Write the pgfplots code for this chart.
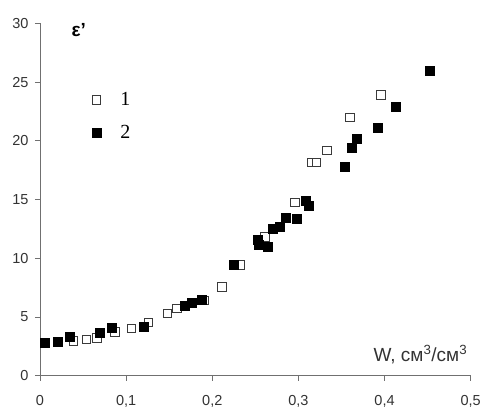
\documentclass[border=0pt]{standalone}
\usepackage{fontspec}
\setmainfont{Liberation Sans}
\newfontfamily\serifnum{Liberation Serif}
\usepackage{pgfplots}
\pgfplotsset{compat=1.18}
\definecolor{axgray}{HTML}{707070}
\definecolor{txtgray}{HTML}{333333}
\definecolor{opengray}{HTML}{3A3A3A}

\begin{document}
\begin{tikzpicture}
\useasboundingbox (-40pt,-34.3pt) rectangle (443pt,375.7pt);
\begin{axis}[scale only axis, width=430.7pt, height=352.4pt,
  xmin=0, xmax=0.5, ymin=0, ymax=30,
  xtick={0,0.1,...,0.5}, ytick={0,5,...,30},
  axis lines=left, axis line style={-, axgray, line width=0.9pt},
  tick align=outside, major tick length=5pt,
  tick style={axgray, line width=0.9pt},
  /pgf/number format/assume math mode=true,
  xticklabel style={/pgf/number format/use comma,
    /pgf/number format/fixed, /pgf/number format/precision=1},
  tick label style={font=\fontsize{14.5}{16}\selectfont, text=txtgray},
  xticklabel style={yshift=-11pt},
  yticklabel style={xshift=-3pt},
  clip=false,
  legend style={at={(axis cs:0.060,24.3)}, anchor=north west, draw=none,
    fill=none, inner sep=0pt, row sep=14pt,
    font=\serifnum\fontsize{20}{22}\selectfont},
  legend cell align=left,
  legend image code/.code={\draw[#1] plot coordinates {(0pt,0pt)};
    \path[draw=none, fill=none] (-4.5pt,0pt) -- (22pt,0pt);},
]
\addplot[only marks, mark=square*, mark size=4.3pt,
  mark options={fill=white, draw=opengray, line width=0.8pt}] coordinates {
(0.039,2.98) (0.054,3.1) (0.066,3.24) (0.087,3.75) (0.106,4.03) (0.126,4.55)
(0.148,5.3) (0.159,5.74) (0.190,6.4) (0.211,7.58) (0.232,9.43) (0.261,11.84)
(0.296,14.77) (0.315,18.15) (0.321,18.15) (0.333,19.17) (0.360,21.98) (0.396,23.9)};
\addlegendentry{1}
\addplot[only marks, mark=square*, mark size=4.5pt,
  mark options={fill=black, draw=black}] coordinates {
(0.006,2.81) (0.021,2.9) (0.035,3.35) (0.069,3.7) (0.083,4.1) (0.120,4.2)
(0.168,5.94) (0.176,6.2) (0.188,6.5) (0.225,9.43) (0.253,11.56) (0.254,11.13)
(0.264,11.0) (0.270,12.5) (0.278,12.7) (0.285,13.46) (0.298,13.35) (0.308,14.9)
(0.312,14.48) (0.354,17.75) (0.362,19.37) (0.368,20.2) (0.392,21.1) (0.413,22.86)
(0.452,26.0)};
\addlegendentry{2}
\node[font=\bfseries\fontsize{19}{20}\selectfont] at (axis cs:0.045,29.4) {ε'};
\node[anchor=base east, font=\fontsize{19}{20}\selectfont, text=txtgray]
  at (axis cs:0.500,1.25) {W, см\textsuperscript{3}/см\textsuperscript{3}};
\end{axis}
\end{tikzpicture}
\end{document}
